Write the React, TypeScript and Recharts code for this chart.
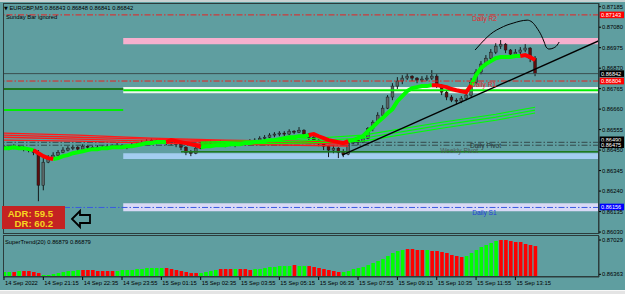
import React from 'react';
import { ComposedChart, Bar, Line, XAxis, YAxis, ReferenceLine, ReferenceArea, ReferenceDot, Cell } from 'recharts';

const FONT = '"Liberation Sans", Arial, sans-serif';

// ---- main price data (one candle per two M5 bars), index i = bar number ----
const firstOpen = 0.8647;
const closes = [
  0.86465,0.86460,0.86470,0.86465,0.86455,0.86450,0.86439,0.86270,0.86388,0.86414,
  0.86424,0.86439,0.86450,0.86460,0.86465,0.86455,0.86470,0.86465,0.86460,0.86465,
  0.86465,0.86470,0.86470,0.86475,0.86470,0.86465,0.86475,0.86480,0.86486,0.86496,
  0.86501,0.86491,0.86496,0.86486,0.86491,0.86480,0.86465,0.86439,0.86434,0.86460,
  0.86480,0.86486,0.86491,0.86486,0.86491,0.86480,0.86486,0.86480,0.86491,0.86486,
  0.86496,0.86501,0.86511,0.86516,0.86527,0.86532,0.86537,0.86532,0.86547,0.86542,
  0.86552,0.86532,0.86516,0.86501,0.86486,0.86470,0.86450,0.86460,0.86439,0.86429,
  0.86486,0.86501,0.86491,0.86511,0.86562,0.86593,0.86629,0.86665,0.86722,0.86778,
  0.86804,0.86819,0.86829,0.86819,0.86809,0.86814,0.86819,0.86829,0.86783,0.86747,
  0.86722,0.86706,0.86701,0.86716,0.86732,0.86798,0.86850,0.86891,0.86921,0.86952,
  0.86983,0.86993,0.86963,0.86942,0.86952,0.86963,0.86973,0.86921,0.86842,
];
const highs = [
  0.86475,0.86470,0.86480,0.86475,0.86470,0.86460,0.86455,0.86450,0.86409,0.86424,
  0.86439,0.86450,0.86465,0.86470,0.86475,0.86470,0.86480,0.86475,0.86470,0.86475,
  0.86475,0.86480,0.86480,0.86486,0.86480,0.86475,0.86486,0.86491,0.86501,0.86506,
  0.86511,0.86506,0.86506,0.86501,0.86501,0.86496,0.86486,0.86470,0.86450,0.86470,
  0.86491,0.86496,0.86501,0.86496,0.86501,0.86496,0.86496,0.86491,0.86501,0.86501,
  0.86506,0.86511,0.86521,0.86527,0.86537,0.86542,0.86547,0.86547,0.86557,0.86552,
  0.86568,0.86557,0.86537,0.86521,0.86506,0.86491,0.86475,0.86475,0.86465,0.86455,
  0.86501,0.86511,0.86506,0.86521,0.86568,0.86603,0.86644,0.86680,0.86732,0.86793,
  0.86824,0.86834,0.86845,0.86834,0.86824,0.86829,0.86834,0.86860,0.86839,0.86788,
  0.86757,0.86732,0.86716,0.86727,0.86747,0.86819,0.86865,0.86906,0.86937,0.86968,
  0.86998,0.87014,0.86998,0.86968,0.86968,0.86978,0.86993,0.86978,0.86932,
];
const lows = [
  0.86455,0.86450,0.86455,0.86455,0.86444,0.86439,0.86424,0.86188,0.86244,0.86383,
  0.86409,0.86419,0.86434,0.86444,0.86450,0.86444,0.86455,0.86455,0.86450,0.86455,
  0.86455,0.86460,0.86460,0.86465,0.86460,0.86455,0.86465,0.86470,0.86475,0.86480,
  0.86486,0.86480,0.86486,0.86475,0.86475,0.86465,0.86450,0.86424,0.86419,0.86429,
  0.86455,0.86470,0.86475,0.86470,0.86475,0.86465,0.86470,0.86465,0.86475,0.86475,
  0.86480,0.86486,0.86496,0.86501,0.86511,0.86516,0.86521,0.86521,0.86527,0.86532,
  0.86537,0.86521,0.86501,0.86486,0.86470,0.86450,0.86414,0.86434,0.86409,0.86414,
  0.86424,0.86480,0.86475,0.86486,0.86506,0.86547,0.86588,0.86624,0.86660,0.86706,
  0.86763,0.86788,0.86809,0.86804,0.86793,0.86798,0.86804,0.86809,0.86768,0.86732,
  0.86706,0.86696,0.86686,0.86691,0.86706,0.86722,0.86788,0.86839,0.86880,0.86911,
  0.86942,0.86968,0.86947,0.86927,0.86932,0.86942,0.86952,0.86901,0.86829,
];
const stValues = [
  0.86460,0.86460,0.86465,0.86460,0.86460,0.86455,0.86450,0.86434,0.86419,0.86409,
  0.86404,0.86409,0.86419,0.86424,0.86434,0.86439,0.86444,0.86450,0.86455,0.86455,
  0.86460,0.86460,0.86465,0.86465,0.86465,0.86470,0.86470,0.86475,0.86480,0.86486,
  0.86486,0.86491,0.86491,0.86491,0.86501,0.86496,0.86491,0.86486,0.86480,0.86475,
  0.86465,0.86470,0.86470,0.86475,0.86475,0.86475,0.86480,0.86480,0.86480,0.86486,
  0.86486,0.86491,0.86491,0.86496,0.86501,0.86501,0.86506,0.86511,0.86516,0.86516,
  0.86521,0.86521,0.86527,0.86532,0.86521,0.86511,0.86501,0.86496,0.86491,0.86486,
  0.86496,0.86501,0.86511,0.86521,0.86547,0.86568,0.86593,0.86614,0.86639,0.86660,
  0.86701,0.86727,0.86752,0.86768,0.86773,0.86778,0.86778,0.86783,0.86783,0.86778,
  0.86773,0.86763,0.86757,0.86752,0.86747,0.86783,0.86834,0.86870,0.86891,0.86906,
  0.86921,0.86927,0.86927,0.86927,0.86932,0.86932,0.86937,0.86927,0.86911,
];
const stColors =
  'gggggggrrr' + 'gggggggggg' + 'gggggggggg' + 'ggggrrrrrr' + 'gggggggggg' +
  'gggggggggg' + 'gggrrrrrrr' + 'gggggggggg' + 'ggggggggrr' + 'rrrrrggggg' + 'ggggggrrr';

// ---- SuperTrend histogram (sub window) ----
const histValues = [
  0.86408,0.86408,0.86408,0.86427,0.86427,0.86427,0.86408,0.86388,0.86350,0.86350,
  0.86369,0.86388,0.86408,0.86427,0.86427,0.86447,0.86447,0.86447,0.86447,0.86427,
  0.86427,0.86427,0.86427,0.86427,0.86447,0.86447,0.86447,0.86466,0.86466,0.86486,
  0.86486,0.86486,0.86486,0.86486,0.86466,0.86447,0.86427,0.86408,0.86388,0.86388,
  0.86388,0.86408,0.86427,0.86447,0.86466,0.86466,0.86466,0.86466,0.86466,0.86466,
  0.86447,0.86466,0.86466,0.86486,0.86505,0.86505,0.86524,0.86524,0.86524,0.86544,
  0.86524,0.86524,0.86524,0.86505,0.86486,0.86466,0.86447,0.86427,0.86408,0.86408,
  0.86427,0.86466,0.86486,0.86505,0.86544,0.86583,0.86622,0.86660,0.86719,0.86777,
  0.86816,0.86835,0.86855,0.86855,0.86835,0.86835,0.86835,0.86816,0.86816,0.86796,
  0.86777,0.86738,0.86719,0.86699,0.86719,0.86777,0.86835,0.86893,0.86932,0.86971,
  0.87010,0.87029,0.87029,0.87010,0.86990,0.86990,0.86952,0.86932,0.86912,
];
const histColors =
  'ggrgrrrrgg' + 'ggggggrrrr' + 'rrrggggggg' + 'gggrrrrrrr' + 'ggggrrrgrr' +
  'rggggggggr' + 'ggrrrrrrrg' + 'gggggggggg' + 'ggrrrrgrrr' + 'rrrrgggggg' + 'grrrrrrrr';

// ---- moving averages ----
const maRed1 = [{ i: 0, p: 0.86537 }, { i: 30, p: 0.86527 }, { i: 60, p: 0.86511 }, { i: 90, p: 0.86501 }, { i: 120, p: 0.86496 }, { i: 140, p: 0.86491 }];
const maRed2 = [{ i: 0, p: 0.86527 }, { i: 30, p: 0.86516 }, { i: 60, p: 0.86506 }, { i: 90, p: 0.86496 }, { i: 120, p: 0.86491 }, { i: 140, p: 0.86486 }];
const maRed3 = [{ i: 0, p: 0.86516 }, { i: 30, p: 0.86506 }, { i: 60, p: 0.86496 }, { i: 90, p: 0.86491 }, { i: 120, p: 0.86486 }, { i: 140, p: 0.86480 }];
const maRed4 = [{ i: 0, p: 0.86501 }, { i: 30, p: 0.86496 }, { i: 60, p: 0.86486 }, { i: 90, p: 0.86480 }, { i: 120, p: 0.86475 }, { i: 140, p: 0.86470 }];
const maGreen1 = [{ i: 80, p: 0.86491 }, { i: 120, p: 0.86506 }, { i: 146, p: 0.86527 }, { i: 178, p: 0.86593 }, { i: 200, p: 0.86634 }, { i: 216, p: 0.86670 }];
const maGreen2 = [{ i: 80, p: 0.86486 }, { i: 120, p: 0.86496 }, { i: 146, p: 0.86511 }, { i: 178, p: 0.86578 }, { i: 200, p: 0.86619 }, { i: 216, p: 0.86655 }];
const maGreen3 = [{ i: 80, p: 0.86480 }, { i: 120, p: 0.86486 }, { i: 146, p: 0.86496 }, { i: 178, p: 0.86562 }, { i: 200, p: 0.86603 }, { i: 216, p: 0.86640 }];

// ---- drawings ----
const trendLine = [{ i: 137.5, p: 0.86424 }, { i: 242, p: 0.87011 }];
const handCurve = [
  { i: 191.6, p: 0.86963 }, { i: 194.1, p: 0.86998 }, { i: 196.5, p: 0.87029 }, { i: 199, p: 0.87055 },
  { i: 201.8, p: 0.87075 }, { i: 204.6, p: 0.87091 }, { i: 207.1, p: 0.87101 }, { i: 209.9, p: 0.87111 },
  { i: 212.8, p: 0.87116 }, { i: 214.8, p: 0.87106 }, { i: 216.8, p: 0.87075 }, { i: 218.5, p: 0.87039 },
  { i: 219.7, p: 0.87004 }, { i: 220.5, p: 0.86978 }, { i: 221.7, p: 0.86968 }, { i: 223.4, p: 0.86973 },
  { i: 225, p: 0.86988 }, { i: 225.8, p: 0.87004 },
];

// ---- levels ----
const dailyR2 = 0.87143;
const bidPrice = 0.86842;
const dailyR1 = 0.86804;
const pivotUpper = 0.8649;
const dailyPivot = 0.86475;
const dailyS1 = 0.86156;
const pinkBand = [0.86993, 0.87024];
const whiteBand = [0.86742, 0.86773];
const blueBand = [0.86404, 0.86434];
const s1Band = [0.86137, 0.86178];
const weeklyGreen = 0.86757;
const leftDarkGreen = 0.86763;
const leftGreen = 0.86655;
const weeklyPivotGreen = 0.86442;
const dayStart = 48.5;
const weeklyGreenStart = 72;

const priceTicks = [0.87185, 0.8708, 0.86975, 0.8687, 0.86765, 0.8666, 0.86555, 0.8645, 0.86345, 0.8624, 0.86135, 0.8603];
const subTicks = [0.87029, 0.86363];
const timeTicks = [0, 16, 32, 48, 64, 80, 96, 112, 128, 144, 160, 176, 192, 208];
const timeLabels = [
  '14 Sep 2022', '14 Sep 21:15', '14 Sep 22:35', '14 Sep 23:55', '15 Sep 01:15', '15 Sep 02:35', '15 Sep 03:55',
  '15 Sep 05:15', '15 Sep 06:35', '15 Sep 07:55', '15 Sep 09:15', '15 Sep 10:35', '15 Sep 11:55', '15 Sep 13:15',
];

const XD: [number, number] = [-0.4, 242];
const YD: [number, number] = [0.8602, 0.87204];
const SUBD: [number, number] = [0.86311, 0.87107];

const mainData = closes.map((c, k) => ({
  i: 2 * k,
  o: k === 0 ? firstOpen : closes[k - 1],
  c,
  h: highs[k],
  l: lows[k],
  stG: stColors[k] === 'g' ? stValues[k] : null,
  stR: stColors[k] === 'r' || stColors[k - 1] === 'r' || stColors[k + 1] === 'r' ? stValues[k] : null,
}));
const subData = histValues.map((v, k) => ({ i: 2 * k, v, col: histColors[k] }));

const Candle = (props: any) => {
  const { x, y, width, height, payload } = props;
  if (x == null || y == null) return null;
  const y0 = Math.min(y, y + height);
  const hh = Math.abs(height);
  const range = payload.h - payload.l || 1e-9;
  const py = (v: number) => y0 + ((payload.h - v) / range) * hh;
  const cx = x + width / 2;
  const top = py(Math.max(payload.o, payload.c));
  const bot = py(Math.min(payload.o, payload.c));
  const bull = payload.c >= payload.o;
  return (
    <g>
      <line x1={cx} x2={cx} y1={y0} y2={y0 + hh} stroke="#141a1a" strokeWidth={1} />
      <rect x={cx - 1.4} y={top} width={2.8} height={Math.max(bot - top, 1)} fill={bull ? '#5a6868' : '#5c0e0e'} stroke="#141a1a" strokeWidth={0.5} />
    </g>
  );
};

const PriceTick = (props: any) => {
  const { x, y, payload } = props;
  return (
    <text x={x} y={y + 2} fontSize={5.8} fontFamily={FONT} fill="#000">
      {Number(payload.value).toFixed(5)}
    </text>
  );
};

const TimeTick = (props: any) => {
  const { x, y, payload } = props;
  const idx = timeTicks.indexOf(payload.value);
  return (
    <text x={x + 1} y={y + 5} fontSize={5.8} fontFamily={FONT} fill="#000">
      {timeLabels[idx]}
    </text>
  );
};

const boxLabel = (text: string, bg: string, shift = 0) => (props: any) => {
  const vb = props.viewBox || {};
  const x = (vb.x || 0) + (vb.width || 0);
  const y = (vb.y || 0) + shift;
  return (
    <g>
      <rect x={x + 0.5} y={y - 3.3} width={24.5} height={6.6} fill={bg} />
      <text x={x + 2} y={y + 2} fontSize={5.6} fontFamily={FONT} fill="#fff">{text}</text>
    </g>
  );
};

const tagLabel = (text: string, color: string, dy: number) => (props: any) => {
  const vb = props.viewBox || {};
  return (
    <text x={vb.x} y={(vb.y || 0) + dy} fontSize={6.6} fontFamily={FONT} fill={color}>{text}</text>
  );
};

const DASHDOT = '6 2 1.5 2';

export default function App() {
  return (
    <div style={{ position: 'fixed', left: 0, top: 0, width: 625, height: 294, background: '#5f9ea0', overflow: 'hidden' }}>
      <div style={{ position: 'absolute', left: 0, top: 0, width: 625, height: 2, background: '#c8d2d2' }} />
      <div style={{ position: 'absolute', left: 0, top: 0 }}>
        <ComposedChart width={625} height={236} data={mainData} margin={{ top: 3, right: 0, bottom: 2, left: 3 }}>
          <XAxis type="number" dataKey="i" domain={XD} hide allowDataOverflow />
          <YAxis
            orientation="right"
            type="number"
            domain={YD}
            allowDataOverflow
            ticks={priceTicks}
            interval={0}
            width={26}
            tick={<PriceTick />}
            tickSize={2}
            tickMargin={1}
            axisLine={{ stroke: '#2c3c3c' }}
            tickLine={{ stroke: '#000' }}
          />
          <ReferenceArea x1={dayStart} x2={XD[1]} y1={pinkBand[0]} y2={pinkBand[1]} fill="#f6b0ce" fillOpacity={1} stroke="none" />
          <ReferenceArea x1={dayStart} x2={XD[1]} y1={whiteBand[0]} y2={whiteBand[1]} fill="#eef6ee" fillOpacity={1} stroke="none" />
          <ReferenceArea x1={dayStart} x2={XD[1]} y1={blueBand[0]} y2={blueBand[1]} fill="#a3cdf0" fillOpacity={1} stroke="none" />
          <ReferenceArea x1={dayStart} x2={XD[1]} y1={s1Band[0]} y2={s1Band[1]} fill="#d9d9f6" fillOpacity={1} stroke="none" />
          <ReferenceLine segment={[{ x: dayStart, y: weeklyGreen }, { x: XD[1], y: weeklyGreen }]} stroke="#00ee00" strokeWidth={2} />
          <ReferenceLine segment={[{ x: XD[0], y: leftDarkGreen }, { x: dayStart, y: leftDarkGreen }]} stroke="#1d7a1d" strokeWidth={2} />
          <ReferenceLine segment={[{ x: XD[0], y: leftGreen }, { x: dayStart, y: leftGreen }]} stroke="#00ee00" strokeWidth={2} />
          <ReferenceLine segment={[{ x: weeklyGreenStart, y: weeklyPivotGreen }, { x: XD[1], y: weeklyPivotGreen }]} stroke="#1d7a1d" strokeWidth={1.5} />
          <ReferenceLine y={dailyR2} stroke="#e82222" strokeDasharray={DASHDOT} label={boxLabel('0.87143', '#ff0000')} />
          <ReferenceLine y={bidPrice} stroke="#3a4e4e" strokeWidth={1} label={boxLabel('0.86842', '#000')} />
          <ReferenceLine y={dailyR1} stroke="#e82222" strokeDasharray={DASHDOT} label={boxLabel('0.86804', '#ff0000')} />
          <ReferenceLine y={pivotUpper} stroke="#34484a" strokeDasharray={DASHDOT} label={boxLabel('0.86490', '#000', -2.5)} />
          <ReferenceLine y={dailyPivot} stroke="#34484a" strokeDasharray={DASHDOT} label={boxLabel('0.86475', '#000', -0.5)} />
          <ReferenceLine y={dailyS1} stroke="#3a5ae0" strokeDasharray={DASHDOT} label={boxLabel('0.86156', '#0000ff', -0.5)} />
          <Line data={maRed1} dataKey="p" stroke="#ff1a1a" strokeWidth={1.3} dot={false} isAnimationActive={false} />
          <Line data={maRed2} dataKey="p" stroke="#ff1a1a" strokeWidth={1.3} dot={false} isAnimationActive={false} />
          <Line data={maRed3} dataKey="p" stroke="#ff1a1a" strokeWidth={1.3} dot={false} isAnimationActive={false} />
          <Line data={maRed4} dataKey="p" stroke="#ff1a1a" strokeWidth={1.3} dot={false} isAnimationActive={false} />
          <Line data={maGreen1} dataKey="p" stroke="#00ff00" strokeWidth={1.1} dot={false} isAnimationActive={false} />
          <Line data={maGreen2} dataKey="p" stroke="#00ff00" strokeWidth={1.1} dot={false} isAnimationActive={false} />
          <Line data={maGreen3} dataKey="p" stroke="#00ff00" strokeWidth={1.1} dot={false} isAnimationActive={false} />
          <Bar dataKey={(d: any) => [d.l, d.h]} barSize={3.4} shape={(p: any) => <Candle {...p} />} isAnimationActive={false} />
          <Line dataKey="stG" stroke="#00ff00" strokeWidth={4} dot={false} connectNulls={false} isAnimationActive={false} />
          <Line dataKey="stR" stroke="#ff0000" strokeWidth={4} dot={false} connectNulls={false} isAnimationActive={false} />
          <Line data={trendLine} dataKey="p" stroke="#000" strokeWidth={1.4} dot={false} isAnimationActive={false} />
          <Line data={handCurve} dataKey="p" type="monotone" stroke="#000" strokeWidth={1} dot={false} isAnimationActive={false} />
          <ReferenceDot x={190.4} y={dailyR2} r={0} fill="none" stroke="none" label={tagLabel('Daily R2', '#e8262a', 6)} />
          <ReferenceDot x={190} y={dailyR1} r={0} fill="none" stroke="none" label={tagLabel('Daily R1', '#e8262a', 6)} />
          <ReferenceDot x={189.5} y={dailyPivot} r={0} fill="none" stroke="none" label={tagLabel('Daily Pivot', '#263434', 3)} />
          <ReferenceDot x={177.4} y={0.8645} r={0} fill="none" stroke="none" label={tagLabel('Weekly Pivot', '#4a5858', 2.5)} />
          <ReferenceDot x={190.4} y={dailyS1} r={0} fill="none" stroke="none" label={tagLabel('Daily S1', '#1f3fd8', 7.5)} />
        </ComposedChart>
      </div>
      <div style={{ position: 'absolute', left: 0, top: 236 }}>
        <ComposedChart width={625} height={58} data={subData} margin={{ top: 0, right: 0, bottom: 4, left: 3 }}>
          <XAxis
            type="number"
            dataKey="i"
            domain={XD}
            allowDataOverflow
            ticks={timeTicks}
            interval={0}
            height={13}
            tick={<TimeTick />}
            tickSize={3}
            tickMargin={0}
            axisLine={{ stroke: '#2c3c3c' }}
            tickLine={{ stroke: '#000' }}
          />
          <YAxis
            orientation="right"
            type="number"
            domain={SUBD}
            allowDataOverflow
            ticks={subTicks}
            interval={0}
            width={26}
            tick={<PriceTick />}
            tickSize={2}
            tickMargin={1}
            axisLine={{ stroke: '#2c3c3c' }}
            tickLine={{ stroke: '#000' }}
          />
          <Bar dataKey="v" barSize={3.6} isAnimationActive={false}>
            {subData.map((d, k) => (
              <Cell key={k} fill={d.col === 'g' ? '#00ff00' : '#ff0000'} />
            ))}
          </Bar>
        </ComposedChart>
      </div>
      {/* frames */}
      <div style={{ position: 'absolute', left: 3, top: 3, width: 596, height: 231, border: '1px solid #2c3c3c', boxSizing: 'border-box', pointerEvents: 'none' }} />
      <div style={{ position: 'absolute', left: 3, top: 235, width: 596, height: 42, border: '1px solid #2c3c3c', boxSizing: 'border-box', pointerEvents: 'none' }} />
      <div style={{ position: 'absolute', left: 0, top: 290, width: 625, height: 4, background: '#e4e4e4', borderTop: '1px solid #f8f8f8' }} />
      <svg width={625} height={294} style={{ position: 'absolute', left: 0, top: 0, pointerEvents: 'none' }}>
        <text x={4} y={10} fontSize={5.8} fontFamily={FONT} fill="#000">
          <tspan fontFamily="DejaVu Sans" fontSize={5}>▼</tspan> EURGBP,M5  0.86843 0.86848 0.86841 0.86842
        </text>
        <text x={6} y={19} fontSize={5.8} fontFamily={FONT} fill="#000">Sunday Bar ignored</text>
        <text x={5} y={244} fontSize={5.8} fontFamily={FONT} fill="#000">SuperTrend(20) 0.86879 0.86879</text>
        <rect x={2} y={206} width={63} height={23} fill="#c42222" />
        <text x={53} y={217} textAnchor="end" fontSize={9.6} fontWeight="bold" fontFamily={FONT} fill="#f6d420">ADR: 59.5</text>
        <text x={53} y={227} textAnchor="end" fontSize={9.6} fontWeight="bold" fontFamily={FONT} fill="#f6d420">DR: 60.2</text>
        <path d="M72 219 L80 211 L80 215 L90 215 L90 223 L80 223 L80 227 Z" fill="none" stroke="#000" strokeWidth={1.8} strokeLinejoin="miter" />
      </svg>
    </div>
  );
}
